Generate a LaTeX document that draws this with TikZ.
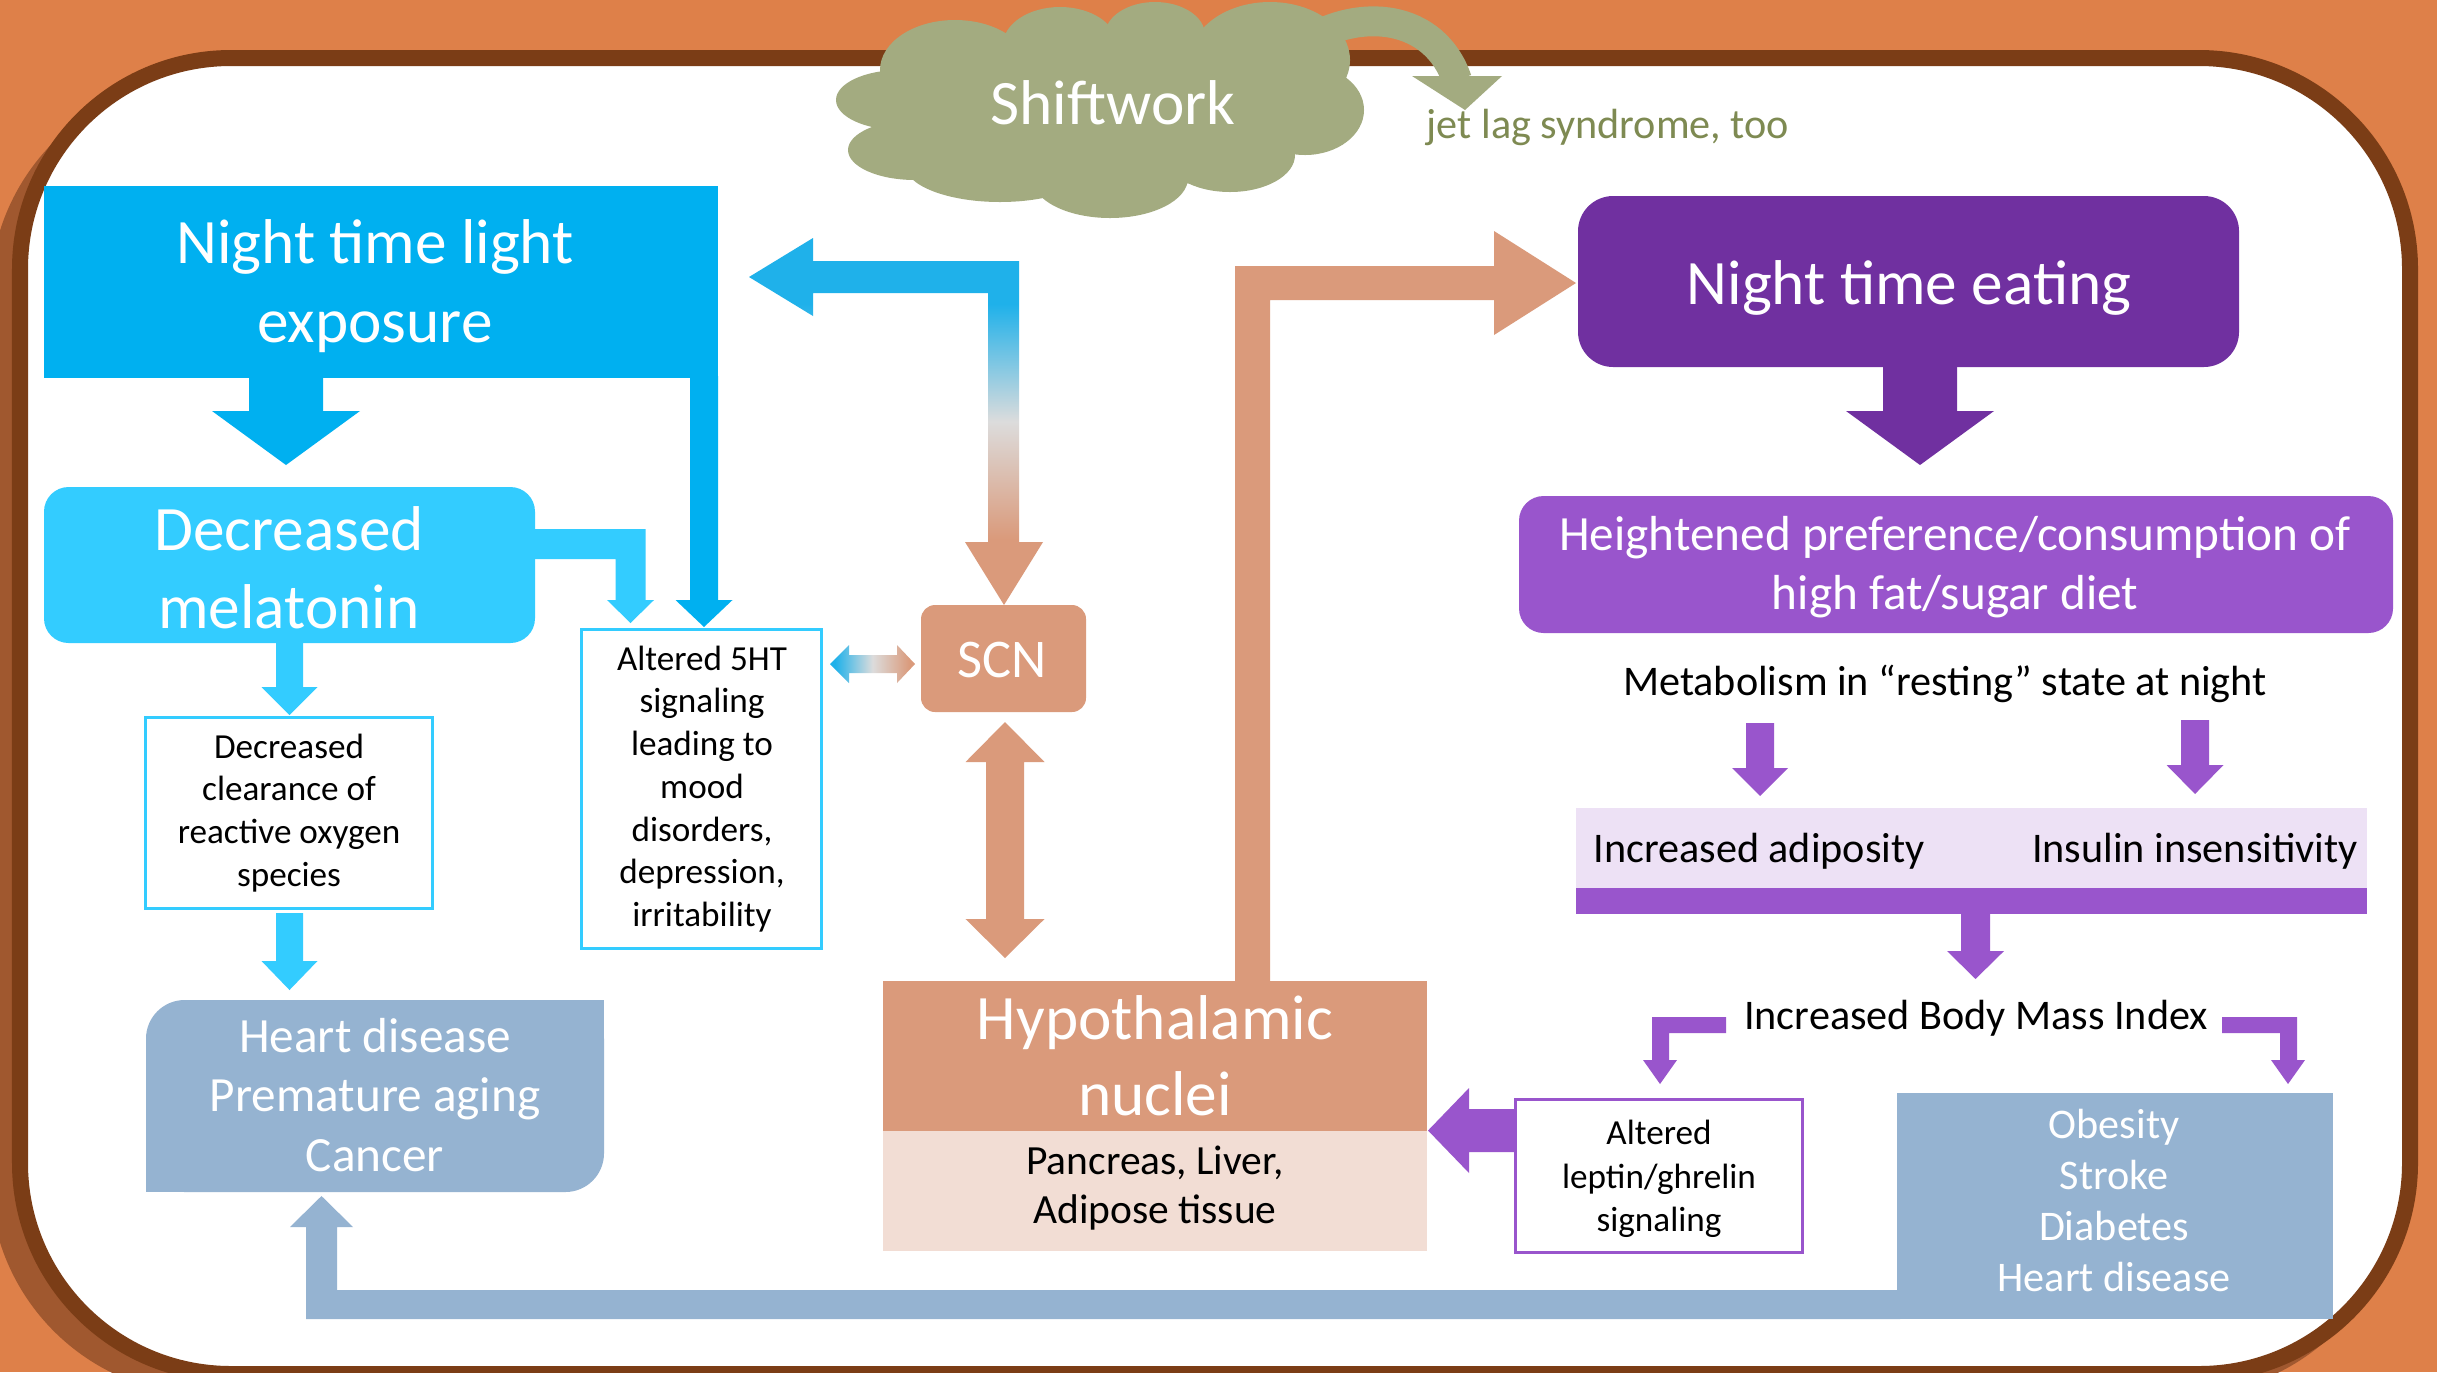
\documentclass[tikz,border=0pt]{standalone}
\usepackage{fontspec}
\setmainfont{Carlito}
\definecolor{bgorange}{HTML}{DE8049}
\definecolor{shadowc}{HTML}{A0582F}
\definecolor{framebrown}{HTML}{7B3D16}
\definecolor{cloudgreen}{HTML}{A3AB80}
\definecolor{jetgreen}{HTML}{7E8A52}
\definecolor{nightblue}{HTML}{00B0F0}
\definecolor{melblue}{HTML}{33CCFF}
\definecolor{gradblue}{HTML}{1FB1EA}
\definecolor{gradgray}{HTML}{DCDCDC}
\definecolor{salmon}{HTML}{DA9A7B}
\definecolor{pinkc}{HTML}{F2DDD4}
\definecolor{steel}{HTML}{95B3D1}
\definecolor{purpleD}{HTML}{7030A0}
\definecolor{purpleL}{HTML}{9955CC}
\definecolor{lavender}{HTML}{EDE1F5}
\pgfdeclareverticalshading{scngrad}{100bp}{color(0bp)=(salmon); color(34bp)=(salmon); color(50bp)=(gradgray); color(66bp)=(gradblue); color(100bp)=(gradblue)}
\pgfdeclarehorizontalshading{smallgrad}{100bp}{color(0bp)=(gradblue); color(28bp)=(gradblue); color(50bp)=(gradgray); color(72bp)=(salmon); color(100bp)=(salmon)}
\newcommand\fs[2]{\fontsize{#1}{#2}\selectfont}
% vertical down block arrow: style, cx, ystart, ytip, shaft half width, head half width, head length
\newcommand\dnarrow[7]{\fill[#1] ({#2-#5},#3) -- ({#2+#5},#3) -- ({#2+#5},{#4-#7}) -- ({#2+#6},{#4-#7}) -- (#2,#4) -- ({#2-#6},{#4-#7}) -- ({#2-#5},{#4-#7}) -- cycle;}
\tikzset{
  lbl/.style={align=center, inner sep=0pt},
  thinbox/.style={line width=0.85pt, fill=white},
}
\begin{document}
\begin{tikzpicture}[x=0.01cm,y=-0.01cm]
\useasboundingbox (0,0) rectangle (2437,1372);
\clip (0,0) rectangle (2437,1372);
% background and frame
\fill[bgorange] (0,0) rectangle (2437,1372);
\fill[shadowc, rounded corners=62pt] (-10,78) rectangle (2400,1395);
\draw[framebrown, line width=4.55pt, fill=white, rounded corners=60pt] (20,58) rectangle (2410,1374);
% cloud
\begin{scope}[cloudgreen]
\fill (1100,110) ellipse [x radius=220, y radius=80];
\fill (900,100) ellipse [x radius=64, y radius=30];
\fill (915,150) ellipse [x radius=67, y radius=30];
\fill (1000,165) ellipse [x radius=95, y radius=37];
\fill (1110,178) ellipse [x radius=78, y radius=40];
\fill (1230,155) ellipse [x radius=65, y radius=37];
\fill (1305,110) ellipse [x radius=59, y radius=45];
\fill (1270,60) ellipse [x radius=80, y radius=58];
\fill (1155,35) ellipse [x radius=50, y radius=33];
\fill (1060,45) ellipse [x radius=57, y radius=38];
\fill (955,70) ellipse [x radius=75, y radius=50];
\draw[line width=8.5pt] (1300,45) .. controls (1360,5) and (1435,15) .. (1457,80);
\fill (1412,76) -- (1502,76) -- (1465,110) -- cycle;
\end{scope}
\node[lbl, white, font=\fs{18pt}{22pt}] (shift) at (1113,103) {Shiftwork};
\node[lbl, jetgreen, font=\fs{12pt}{14pt}] (jetlag) at (1608,127) {jet lag syndrome, too};

% night time light exposure (L-shaped)
\fill[nightblue] (44,186) rectangle (718,378);
\dnarrow{nightblue}{704}{376}{627}{14}{28.5}{27}
\dnarrow{nightblue}{286}{376}{465}{37}{74}{54}
\node[lbl, white, font=\fs{18pt}{22.5pt}] (night) at (375,286) {Night time light\\exposure};

% decreased melatonin
\fill[melblue, rounded corners=7pt] (44,487) rectangle (535,643);
\node[lbl, white, font=\fs{18pt}{22.2pt}] (mel) at (289,568) {Decreased\\melatonin};
\fill[melblue] (533,529) -- (645.5,529) -- (645.5,600) -- (654,600) -- (630.5,623) -- (607,600) -- (615.5,600) -- (615.5,559) -- (533,559) -- cycle;
\dnarrow{melblue}{289.5}{641}{715}{13.5}{28}{28}

% clearance box
\draw[melblue, thinbox] (145.5,717.5) rectangle (432.5,908.5);
\node[lbl, font=\fs{10pt}{12.2pt}] (clear) at (289,813) {Decreased\\clearance of\\reactive oxygen\\species};
\dnarrow{melblue}{289.5}{913}{990}{13.5}{28}{29}

% heart disease box (diagonal rounded corners)
\fill[steel, rounded corners=11pt] (146,1000) rectangle (604,1192);
\fill[steel] (450,1000) rectangle (604,1100);
\fill[steel] (146,1100) rectangle (300,1192);
\node[lbl, white, font=\fs{14pt}{17pt}] (heart) at (375,1095) {Heart disease\\Premature aging\\Cancer};

% 5HT box
\draw[melblue, thinbox] (581.5,629.5) rectangle (821.5,948.5);
\node[lbl, font=\fs{10pt}{12.15pt}] (ht) at (702,789) {Altered 5HT\\signaling\\leading to\\mood\\disorders,\\depression,\\irritability};

% SCN
\fill[salmon, rounded corners=4pt] (921,605) rectangle (1086,712);
\node[lbl, white, font=\fs{15.5pt}{18pt}] (scn) at (1002,660) {SCN};

% gradient L arrow SCN <-> night light
\shade[shading=scngrad]
  (749,277) -- (813,238) -- (813,261) -- (1019,261) -- (1019,542) -- (1043,542) -- (1004,605) -- (965,542) -- (988,542) -- (988,293) -- (813,293) -- (813,316) -- cycle;
% small gradient double arrow 5HT <-> SCN
\shade[shading=smallgrad]
  (830,664) -- (849,645) -- (849,655) -- (897,655) -- (897,645) -- (915,664) -- (897,683) -- (897,673) -- (849,673) -- (849,683) -- cycle;
% SCN <-> hypothalamic
\fill[salmon] (1005,722) -- (1044.5,762) -- (1024,762) -- (1024,919) -- (1044.5,919) -- (1005,958) -- (965.5,919) -- (986,919) -- (986,762) -- (965.5,762) -- cycle;

% hypothalamic nuclei
\fill[salmon] (883,981) rectangle (1427,1131);
\fill[pinkc] (883,1131) rectangle (1427,1251);
\node[lbl, white, font=\fs{18pt}{21.6pt}] (hypo) at (1155,1056) {Hypothalamic\\nuclei};
\node[lbl, font=\fs{11.8pt}{14pt}] (organs) at (1155,1188) {Pancreas, Liver,\\Adipose tissue};
% hypothalamic -> night time eating
\fill[salmon] (1235,983) -- (1235,266) -- (1494,266) -- (1494,231) -- (1576,283) -- (1494,335) -- (1494,300) -- (1270,300) -- (1270,983) -- cycle;

% night time eating
\fill[purpleD, rounded corners=10pt] (1578,196) rectangle (2239,367);
\node[lbl, white, font=\fs{18pt}{22pt}] (eat) at (1909,288) {Night time eating};
\dnarrow{purpleD}{1920}{365}{465}{37}{74}{54}

% heightened preference
\fill[purpleL, rounded corners=7pt] (1519,496) rectangle (2393,633);
\node[lbl, white, font=\fs{14pt}{16.8pt}] (pref) at (1955,567) {Heightened preference/consumption of\\high fat/sugar diet};
\node[lbl, font=\fs{12pt}{14pt}] (metab) at (1945,684) {Metabolism in “resting” state at night};
\dnarrow{purpleL}{1760}{723}{796}{14}{28}{28}
\dnarrow{purpleL}{2195}{720}{794}{14}{28.5}{29}

% adiposity band
\fill[lavender] (1576,808) rectangle (2367,888);
\fill[purpleL] (1576,888) rectangle (2367,914);
\node[lbl, font=\fs{12pt}{14pt}] (adip) at (1759,851) {Increased adiposity};
\node[lbl, font=\fs{12pt}{14pt}] (insul) at (2195,851) {Insulin insensitivity};
\dnarrow{purpleL}{1975.5}{912}{979}{14.5}{28.5}{28}

% BMI
\node[lbl, font=\fs{12pt}{14pt}] (bmi) at (1976,1018) {Increased Body Mass Index};
\fill[purpleL] (1726,1017) -- (1652,1017) -- (1652,1060) -- (1643,1060) -- (1660,1084) -- (1677,1060) -- (1669,1060) -- (1669,1033) -- (1726,1033) -- cycle;
\fill[purpleL] (2222,1017) -- (2297,1017) -- (2297,1060) -- (2305,1060) -- (2288,1084) -- (2271,1060) -- (2280,1060) -- (2280,1033) -- (2222,1033) -- cycle;

% leptin box
\draw[purpleL, thinbox] (1515.5,1099.5) rectangle (1802.5,1252.5);
\node[lbl, font=\fs{10pt}{12.4pt}] (leptin) at (1659,1179) {Altered\\leptin/ghrelin\\signaling};
\fill[purpleL] (1516,1109) -- (1469,1109) -- (1469,1088) -- (1428,1130.5) -- (1469,1173) -- (1469,1152) -- (1516,1152) -- cycle;

% obesity box and feedback arrow
\fill[steel] (1897,1093) rectangle (2333,1319);
\fill[steel] (1900,1290) -- (337,1290) -- (337,1227) -- (353,1227) -- (321.5,1196) -- (290,1227) -- (306,1227) -- (306,1319) -- (1900,1319) -- cycle;
\node[lbl, white, font=\fs{12pt}{14.5pt}] (obes) at (2114,1200) {Obesity\\Stroke\\Diabetes\\Heart disease};
\end{tikzpicture}
\end{document}
